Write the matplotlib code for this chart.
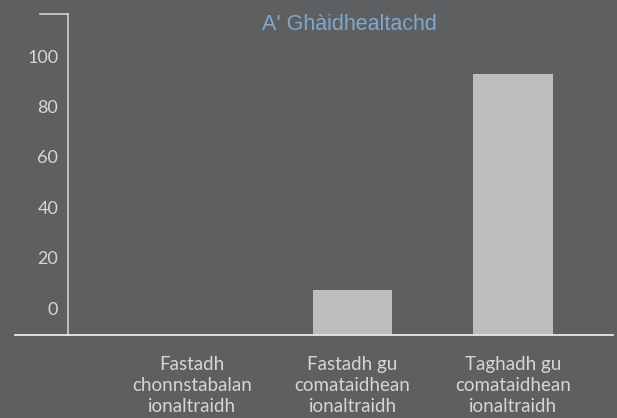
import matplotlib
matplotlib.use('Agg')
import matplotlib.pyplot as plt
from matplotlib import font_manager

# data
categories = ['Fastadh\nchonnstabalan\nionaltraidh',
              'Fastadh gu\ncomataidhean\nionaltraidh',
              'Taghadh gu\ncomataidhean\nionaltraidh']
values = [0, 7, 93]
yticks = [0, 20, 40, 60, 80, 100]
title = "A' Ghàidhealtachd"

bg = '#5e5f61'
bar_color = '#bcbdbf'
text_color = '#d6d6d6'
title_color = '#7ea8d0'

names = {f.name for f in font_manager.fontManager.ttflist}
label_font = 'Lato' if 'Lato' in names else 'DejaVu Sans'

W, H = 617, 418
fig = plt.figure(figsize=(W / 100, H / 100), dpi=100, facecolor=bg)
ax = fig.add_axes([15 / W, (H - 335) / H, 598 / W, 321 / H], facecolor=bg)

# the baseline line sits a bit below zero in the reference
y_lo, y_hi = -10.7, 116.7
ax.set_ylim(y_lo, y_hi)
ax.set_xlim(-1.103, 2.623)

x = range(len(categories))
heights = [v - y_lo if v > 0 else 0 for v in values]
ax.bar(x, heights, bottom=y_lo, width=0.495, color=bar_color, zorder=2)

for side in ['top', 'right']:
    ax.spines[side].set_visible(False)
ax.spines['left'].set_position(('axes', 53 / 598))
ax.spines['left'].set_color('#d0d0d0')
ax.spines['bottom'].set_color('#e8e8e8')
ax.spines['left'].set_linewidth(1.2)
ax.spines['bottom'].set_linewidth(1.3)

# short tick at the top of the y axis
ax.plot([25 / 598, 53 / 598], [1, 1], color='#d0d0d0', lw=1.2,
        transform=ax.transAxes, clip_on=False)

ax.set_yticks(yticks)
ax.set_yticklabels([str(t) for t in yticks], fontsize=13,
                   color=text_color, family=label_font)
ax.tick_params(axis='y', length=0, pad=7)

ax.set_xticks(list(x))
ax.set_xticklabels(categories, fontsize=13.5, color=text_color,
                   family=label_font, linespacing=1.28)
ax.tick_params(axis='x', length=0, pad=15)

fig.text(349 / W, 1 - 25 / H, title, ha='center', va='center',
         fontsize=15.5, color=title_color, family='Liberation Sans')

fig.savefig('out.png', dpi=100, facecolor=bg)
